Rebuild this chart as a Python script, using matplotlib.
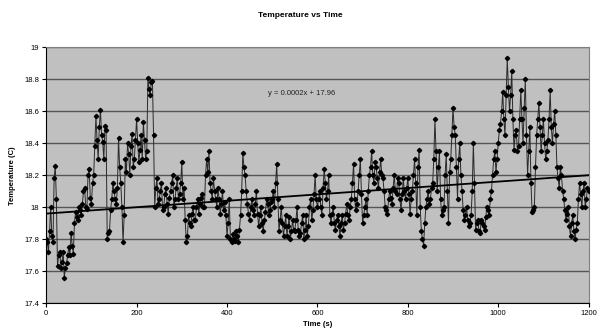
"""
Temperature vs Time chart with linear trend line.
"""

import numpy
import matplotlib
matplotlib.use('Agg')
import matplotlib.pyplot as plt
from matplotlib.ticker import FuncFormatter

# readings on whole 5 s steps (0, 5, ..., 1200)
temp_c = [
    17.80, 17.72, 18.00, 17.78, 18.26, 17.63, 17.72, 17.66, 17.56, 17.65,
    17.75, 17.84, 17.71, 17.97, 17.92, 17.98, 18.02, 18.12, 17.99, 18.24,
    18.02, 18.20, 18.57, 18.30, 18.61, 18.41, 18.51, 17.80, 17.85, 18.05,
    18.10, 18.02, 18.43, 18.15, 17.78, 18.30, 18.40, 18.20, 18.46, 18.30,
    18.55, 18.28, 18.45, 18.53, 18.30, 18.81, 18.70, 18.79, 18.00, 18.18,
    18.05, 18.15, 18.00, 18.12, 17.96, 18.10, 18.20, 18.05, 18.18, 18.08,
    18.28, 18.12, 17.78, 17.95, 17.88, 18.00, 17.92, 18.05, 18.02, 18.08,
    18.00, 18.30, 18.35, 18.10, 18.18, 18.05, 18.12, 17.96, 18.10, 18.03,
    17.82, 18.05, 17.78, 17.80, 17.85, 17.78, 17.95, 18.34, 18.20, 18.02,
    17.92, 18.05, 17.95, 18.10, 17.88, 18.00, 17.85, 17.97, 18.02, 17.98,
    18.05, 18.00, 18.27, 17.85, 18.00, 17.82, 17.95, 17.88, 17.80, 17.92,
    17.85, 18.00, 17.82, 17.90, 17.80, 17.95, 17.88, 18.05, 17.98, 18.20,
    18.00, 18.10, 17.95, 18.24, 18.05, 18.20, 17.90, 18.00, 17.86, 17.95,
    17.82, 17.95, 17.90, 18.02, 17.92, 18.05, 18.27, 17.98, 18.10, 18.30,
    17.90, 18.00, 17.95, 18.20, 18.35, 18.15, 18.25, 18.12, 18.30, 18.18,
    18.00, 17.96, 18.10, 18.02, 18.20, 18.08, 18.15, 17.98, 18.18, 18.05,
    18.18, 17.96, 18.10, 18.30, 17.95, 18.36, 17.85, 17.76, 18.00, 18.10,
    18.05, 18.15, 18.55, 18.10, 18.35, 17.95, 18.00, 18.33, 17.90, 18.30,
    18.62, 18.45, 18.05, 18.40, 18.10, 17.92, 18.00, 17.88, 17.95, 18.40,
    17.86, 17.92, 17.84, 17.90, 17.86, 18.00, 17.95, 18.10, 18.30, 18.22,
    18.40, 18.52, 18.72, 18.45, 18.93, 18.60, 18.85, 18.36, 18.48, 18.38,
    18.73, 18.40, 18.80, 18.20, 18.50, 17.97, 18.00, 18.45, 18.65, 18.35,
    18.55, 18.30, 18.42, 18.73, 18.40, 18.60, 18.25, 18.12, 18.20, 18.05,
    17.92, 18.00, 17.82, 17.95, 17.80, 17.90, 18.15, 18.00, 18.15, 18.05,
    18.10,
]

# readings half way between (2.5, 7.5, ..., 1197.5)
temp_mid_c = [
    17.78, 17.85, 17.82, 18.18, 18.05, 17.70, 17.62, 17.72, 17.62, 17.70,
    17.70, 17.76, 17.90, 17.94, 18.00, 17.95, 18.10, 18.00, 18.20, 18.06,
    18.15, 18.38, 18.42, 18.50, 18.45, 18.30, 18.48, 17.84, 17.98, 18.15,
    18.05, 18.12, 18.25, 18.00, 17.95, 18.22, 18.33, 18.38, 18.25, 18.42,
    18.40, 18.36, 18.30, 18.42, 18.35, 18.74, 18.78, 18.45, 18.12, 18.02,
    18.10, 17.98, 18.08, 18.02, 18.06, 18.15, 18.00, 18.12, 18.05, 18.15,
    18.05, 17.92, 17.82, 17.90, 17.96, 17.92, 18.00, 17.96, 18.06, 18.00,
    18.20, 18.22, 18.15, 18.05, 18.10, 18.00, 18.05, 18.02, 17.98, 17.95,
    17.90, 17.80, 17.83, 17.79, 17.82, 17.86, 18.10, 18.25, 18.10, 17.96,
    18.00, 17.98, 18.02, 17.96, 17.95, 17.90, 17.92, 18.05, 17.95, 18.03,
    18.10, 18.15, 18.05, 17.92, 17.90, 17.88, 17.82, 17.94, 17.85, 17.86,
    17.92, 17.86, 17.84, 17.95, 17.86, 17.82, 18.00, 17.92, 18.08, 18.05,
    18.05, 18.00, 18.12, 18.15, 18.10, 17.95, 17.96, 17.90, 17.92, 17.88,
    17.90, 17.86, 17.96, 17.95, 18.00, 18.15, 18.05, 18.02, 18.20, 18.08,
    17.95, 18.05, 18.10, 18.25, 18.20, 18.28, 18.18, 18.22, 18.20, 18.10,
    17.98, 18.05, 18.06, 18.12, 18.10, 18.18, 18.05, 18.08, 18.10, 18.12,
    18.08, 18.05, 18.20, 18.15, 18.25, 18.00, 17.80, 17.90, 18.05, 18.02,
    18.12, 18.30, 18.35, 18.25, 18.05, 17.98, 18.20, 18.10, 18.22, 18.45,
    18.50, 18.25, 18.30, 18.20, 17.98, 17.95, 17.92, 17.90, 18.10, 18.15,
    17.90, 17.85, 17.92, 17.88, 17.94, 17.98, 18.05, 18.20, 18.35, 18.30,
    18.48, 18.60, 18.55, 18.70, 18.75, 18.70, 18.55, 18.45, 18.35, 18.55,
    18.55, 18.62, 18.45, 18.35, 18.15, 17.98, 18.25, 18.55, 18.50, 18.45,
    18.40, 18.35, 18.55, 18.50, 18.52, 18.45, 18.18, 18.25, 18.10, 17.98,
    17.96, 17.88, 17.90, 17.85, 17.86, 18.05, 18.08, 18.10, 18.00, 18.12,
]

# trend line as shown on the chart
trend_slope = 0.0002
trend_icpt = 17.96
trend_label = 'y = 0.0002x + 17.96'

x_ticks = [0, 200, 400, 600, 800, 1000, 1200]
y_ticks = [17.4, 17.6, 17.8, 18.0, 18.2, 18.4, 18.6, 18.8, 19.0]

# merge the two sets of readings in time order
t_whole = numpy.arange(len(temp_c))*5.0
t_mid = numpy.arange(len(temp_mid_c))*5.0 + 2.5
time_s = numpy.concatenate([t_whole, t_mid])
temp = numpy.concatenate([temp_c, temp_mid_c])
order = numpy.argsort(time_s)
time_s = time_s[order]
temp = temp[order]

plt.rcParams['font.family'] = ['Liberation Sans', 'DejaVu Sans']

fig = plt.figure(figsize=(6.0, 3.35), dpi=100)
ax = fig.add_axes([0.077, 0.095, 0.904, 0.764])  # [left bottom width height]
ax.set_facecolor('#c0c0c0')

ax.plot(time_s, temp, color='#2a2a2a', lw=0.7, marker='D', ms=2.2,
        mfc='black', mec='black', zorder=3)

tx = numpy.array([x_ticks[0], x_ticks[-1]], dtype=float)
ax.plot(tx, trend_slope*tx + trend_icpt, color='black', lw=1.3, zorder=4)
ax.text(565, 18.71, trend_label, ha='center', va='center', fontsize=5.5,
        color='#222222')

ax.set_xlim(x_ticks[0], x_ticks[-1])
ax.set_ylim(y_ticks[0], y_ticks[-1])
ax.set_xticks(x_ticks)
ax.set_yticks(y_ticks)
ax.yaxis.set_major_formatter(FuncFormatter(lambda v, p: '%g' % round(v, 1)))
ax.yaxis.grid(True, color='#555555', lw=1.0)
ax.set_axisbelow(True)
ax.tick_params(labelsize=5.5, length=3, width=0.8, direction='out',
               colors='black', pad=2)

for side in ('top', 'right'):
    ax.spines[side].set_color('#808080')
for side in ('left', 'bottom'):
    ax.spines[side].set_color('black')

ax.set_xlabel('Time (s)', fontsize=5.5, fontweight='bold', labelpad=3)
ax.set_ylabel('Temperature (C)', fontsize=5.5, fontweight='bold', labelpad=6)
fig.text(0.5, 0.955, 'Temperature vs Time', ha='center', va='center',
         fontsize=6, fontweight='bold')

fig.savefig('out.png', dpi=100)
plt.close('all')
